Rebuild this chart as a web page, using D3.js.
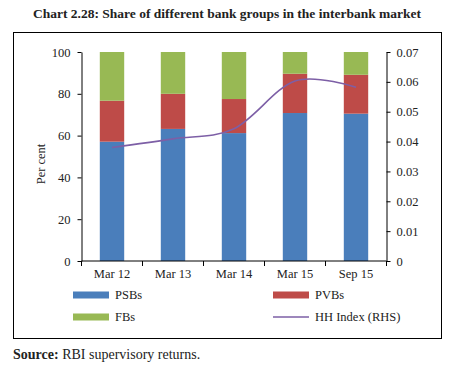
<!DOCTYPE html>
<html>
<head>
<meta charset="utf-8">
<script src="https://cdn.jsdelivr.net/npm/d3@7"></script>
<style>
  body { margin: 0; background: #fff; }
  text { font-family: "Liberation Serif", "DejaVu Serif", serif; fill: #222; }
</style>
</head>
<body>
<script>
// chart data
var periods = ["Mar 12", "Mar 13", "Mar 14", "Mar 15", "Sep 15"];
var psbs = [57.1, 63.2, 61.2, 70.8, 70.5];
var pvbs = [19.6, 16.8, 16.3, 18.8, 18.6];
var fbs  = [23.3, 20.0, 22.5, 10.4, 10.9];
var hhIndex = [0.0380, 0.0409, 0.0443, 0.0603, 0.0582];
var leftTicks = [0, 20, 40, 60, 80, 100];
var rightTicks = [0, 0.01, 0.02, 0.03, 0.04, 0.05, 0.06, 0.07];

var W = 451, H = 368;
var svg = d3.select("body").append("svg")
    .attr("width", W)
    .attr("height", H);

var colors = {PSBs: "#4a7ebb", PVBs: "#be4b48", FBs: "#98b954", HH: "#7d5fa6"};

// title
svg.append("text")
    .attr("x", 227).attr("y", 18)
    .attr("text-anchor", "middle")
    .style("font-weight", "bold")
    .style("font-size", "13.5px")
    .text("Chart 2.28: Share of different bank groups in the interbank market");

// frame
svg.append("rect")
    .attr("x", 13.5).attr("y", 32.5)
    .attr("width", 428).attr("height", 306)
    .attr("fill", "none").attr("stroke", "#000").attr("stroke-width", 1);

var plot = {left: 81.5, right: 386.5, top: 52, bottom: 261};

var x = d3.scaleBand()
    .domain(periods)
    .range([plot.left, plot.right])
    .paddingInner(0.6).paddingOuter(0.3);
var xTicks = d3.scalePoint().domain(d3.range(periods.length + 1)).range([plot.left, plot.right]);

var yL = d3.scaleLinear().domain([0, 100]).range([plot.bottom, plot.top]);
var yR = d3.scaleLinear().domain([0, 0.07]).range([plot.bottom, plot.top]);

// stacked bars
var rows = periods.map(function(p, i) {
  return {period: p, PSBs: psbs[i], PVBs: pvbs[i], FBs: fbs[i]};
});
var stack = d3.stack().keys(["PSBs", "PVBs", "FBs"])(rows);

svg.append("g").selectAll("g")
  .data(stack)
  .join("g")
    .attr("fill", function(s) { return colors[s.key]; })
  .selectAll("rect")
  .data(function(s) { return s; })
  .join("rect")
    .attr("x", function(d) { return x(d.data.period); })
    .attr("width", x.bandwidth())
    .attr("y", function(d) { return yL(d[1]); })
    .attr("height", function(d) { return yL(d[0]) - yL(d[1]); });

// HH index line (smoothed, RHS)
var line = d3.line()
    .x(function(d, i) { return x(periods[i]) + x.bandwidth() / 2; })
    .y(function(d) { return yR(d); })
    .curve(d3.curveCatmullRom.alpha(0));
svg.append("path")
    .datum(hhIndex)
    .attr("d", line)
    .attr("fill", "none")
    .attr("stroke", colors.HH)
    .attr("stroke-width", 1.6);

// axes
var axisFont = "12.5px";
var gl = svg.append("g")
    .attr("transform", "translate(" + plot.left + ",0)")
    .call(d3.axisLeft(yL).tickValues(leftTicks).tickSize(4).tickPadding(7).tickSizeOuter(0));
var gr = svg.append("g")
    .attr("transform", "translate(" + plot.right + ",0)")
    .call(d3.axisRight(yR).tickValues(rightTicks).tickSize(4).tickPadding(6).tickSizeOuter(0)
      .tickFormat(function(d) { return d === 0 ? "0" : d3.format(".2f")(d); }));
var gx = svg.append("g")
    .attr("transform", "translate(0," + plot.bottom + ")")
    .call(d3.axisBottom(x).tickSize(0).tickPadding(8));
gx.select(".domain").attr("d", "M" + plot.left + ",0H" + plot.right);
gx.selectAll(".sep")
  .data(xTicks.domain())
  .join("line")
    .attr("class", "sep")
    .attr("x1", function(d) { return xTicks(d); })
    .attr("x2", function(d) { return xTicks(d); })
    .attr("y1", 0).attr("y2", 5)
    .attr("stroke", "#000");

[gl, gr, gx].forEach(function(g) {
  g.selectAll("text")
    .style("font-family", "'Liberation Serif', serif")
    .style("font-size", axisFont)
    .attr("fill", "#222");
  g.selectAll("path, line").attr("stroke", "#000");
});

svg.append("text")
    .attr("transform", "translate(45,164) rotate(-90)")
    .attr("text-anchor", "middle")
    .style("font-size", axisFont)
    .text("Per cent");

// legend
var legend = [
  {name: "PSBs", color: colors.PSBs, type: "bar", x: 73, y: 295},
  {name: "PVBs", color: colors.PVBs, type: "bar", x: 273, y: 295},
  {name: "FBs", color: colors.FBs, type: "bar", x: 73, y: 317},
  {name: "HH Index (RHS)", color: colors.HH, type: "line", x: 273, y: 317}
];
var lg = svg.append("g").selectAll("g")
  .data(legend)
  .join("g")
    .attr("transform", function(d) { return "translate(" + d.x + "," + d.y + ")"; });
lg.filter(function(d) { return d.type === "bar"; })
  .append("rect")
    .attr("x", 0).attr("y", -3.5)
    .attr("width", 36).attr("height", 7)
    .attr("fill", function(d) { return d.color; });
lg.filter(function(d) { return d.type === "line"; })
  .append("line")
    .attr("x1", 0).attr("x2", 36)
    .attr("stroke", function(d) { return d.color; })
    .attr("stroke-width", 1.6);
lg.append("text")
    .attr("x", 42).attr("y", 4)
    .style("font-size", axisFont)
    .text(function(d) { return d.name; });

// source note
var src = svg.append("text")
    .attr("x", 13).attr("y", 359)
    .style("font-size", "14px");
src.append("tspan").style("font-weight", "bold").text("Source:");
src.append("tspan").text(" RBI supervisory returns.");
</script>
</body>
</html>
